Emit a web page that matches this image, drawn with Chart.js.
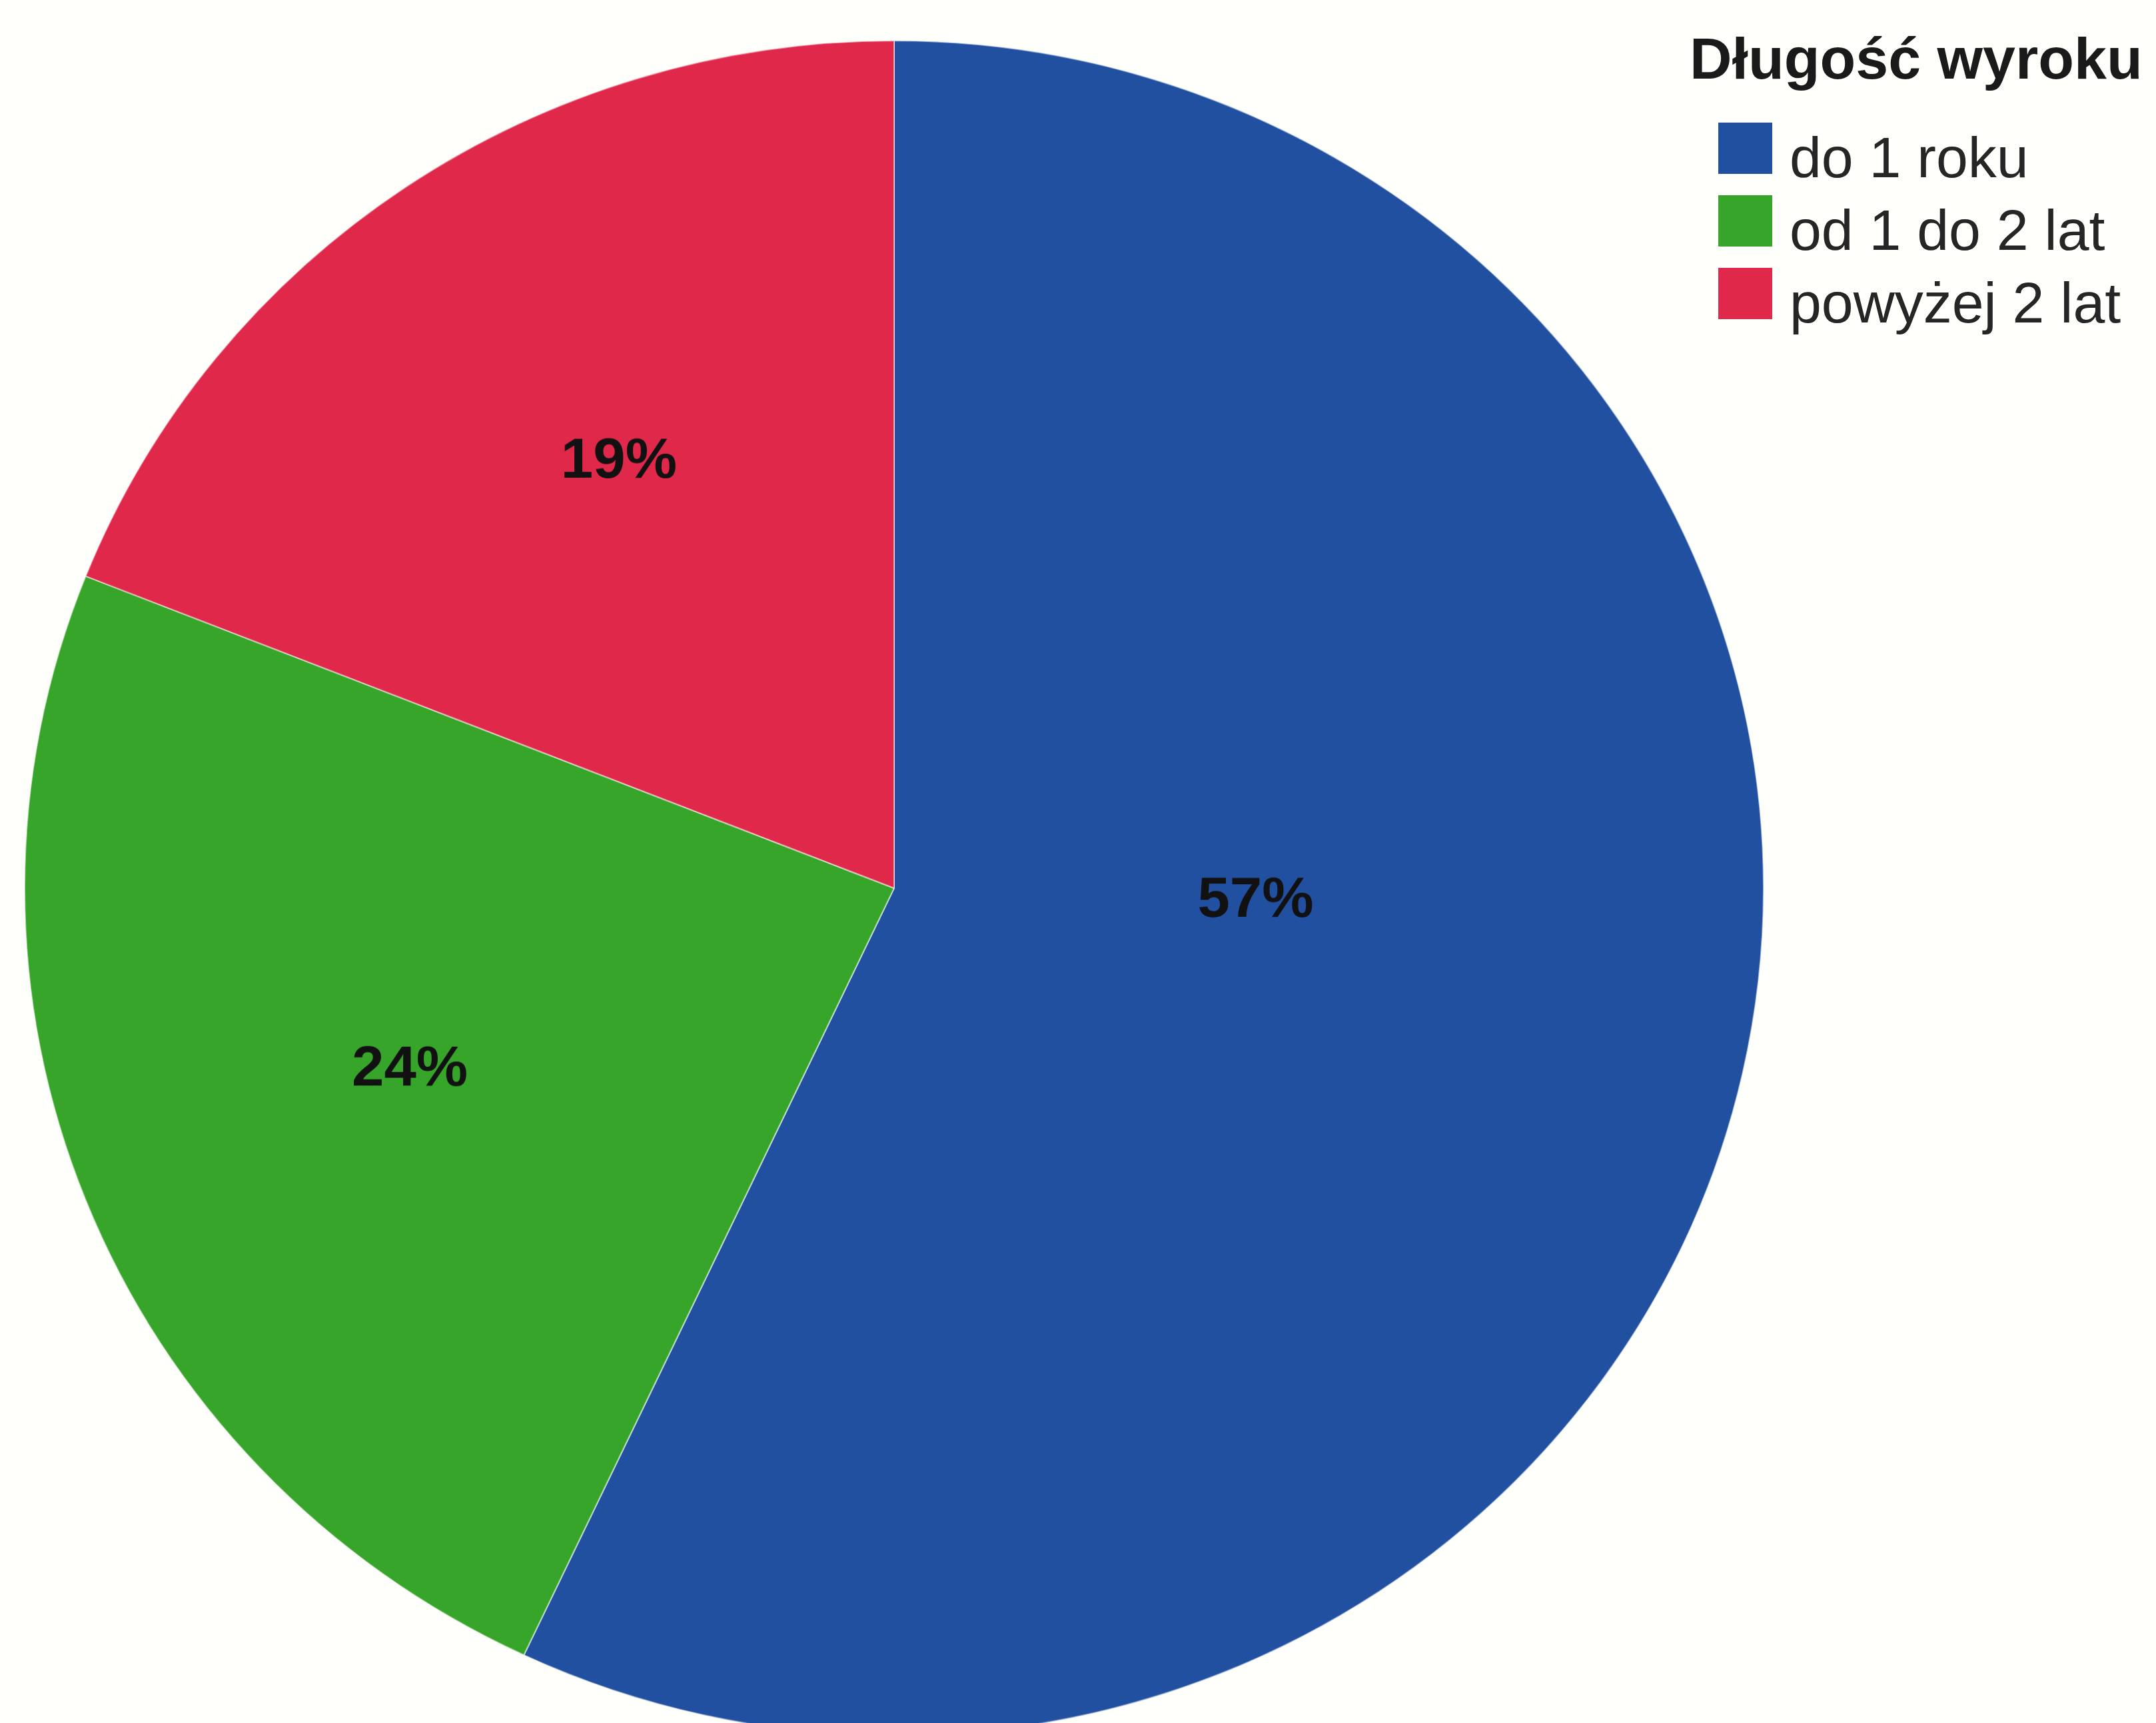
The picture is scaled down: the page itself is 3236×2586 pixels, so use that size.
<!DOCTYPE html>
<html lang="pl">
<head>
    <meta charset="UTF-8">
    <title>Długość wyroku</title>
    <script src="https://cdn.jsdelivr.net/npm/chart.js"></script>
    <style>
        html, body {
            margin: 0;
            width: 3236px;
            height: 2586px;
            overflow: hidden;
            background: #fffffb;
            font-family: 'Liberation Sans', Arial, sans-serif;
            color: #1a1a1a;
        }

        /* pie is a little squashed vertically, like on the printed sheet */
        .pie-wrap {
            position: absolute;
            left: 36px;
            top: 27px;
            width: 2612px;
            height: 2612px;
            transform: scaleY(0.9747);
            transform-origin: 50% 50%;
        }

        .legend {
            position: absolute;
            left: 2536px;
            top: 44px;
        }

        .legend h3 {
            margin: 0 0 50px 0;
            font-size: 88px;
            line-height: 88px;
            font-weight: bold;
            white-space: nowrap;
        }

        .legend .item {
            position: relative;
            height: 109px;
            line-height: 109px;
            font-size: 86px;
            padding-left: 150px;
            white-space: nowrap;
            color: #262626;
        }

        .legend .swatch {
            position: absolute;
            left: 43px;
            top: 2px;
            width: 81px;
            height: 77px;
        }
    </style>
</head>
<body>
    <div class="pie-wrap">
        <canvas id="pieChart"></canvas>
    </div>
    <div class="legend" id="legend">
        <h3>Długość wyroku</h3>
    </div>

    <script>
        // Sentence length shares (%)
        var categories = ['do 1 roku', 'od 1 do 2 lat', 'powyżej 2 lat'];
        var shares = [57, 24, 19];
        var colors = ['#2150a0', '#37a52a', '#e0284b'];

        // where each percentage sits inside its slice
        var labelRadius = [0.416, 0.597, 0.594];
        var labelAngleShift = [-10.5, 0.5, 2];

        var sliceLabels = {
            id: 'sliceLabels',
            afterDatasetsDraw: function (chart) {
                var ctx = chart.ctx;
                var arcs = chart.getDatasetMeta(0).data;
                ctx.save();
                ctx.font = 'bold 87px "Liberation Sans", Arial, sans-serif';
                ctx.fillStyle = '#111';
                ctx.textAlign = 'center';
                ctx.textBaseline = 'middle';
                arcs.forEach(function (arc, i) {
                    var p = arc.getProps(['x', 'y', 'startAngle', 'endAngle', 'outerRadius'], true);
                    var mid = (p.startAngle + p.endAngle) / 2 + labelAngleShift[i] * Math.PI / 180;
                    var r = p.outerRadius * labelRadius[i];
                    ctx.fillText(shares[i] + '%', p.x + Math.cos(mid) * r, p.y + Math.sin(mid) * r);
                });
                ctx.restore();
            }
        };

        var pieCtx = document.getElementById('pieChart').getContext('2d');
        var pieChart = new Chart(pieCtx, {
            type: 'pie',
            data: {
                labels: categories,
                datasets: [{
                    data: shares,
                    backgroundColor: colors,
                    borderColor: 'rgba(255, 255, 255, 0.55)',
                    borderWidth: 2
                }]
            },
            options: {
                responsive: true,
                maintainAspectRatio: false,
                animation: false,
                layout: { padding: 0 },
                plugins: {
                    legend: { display: false },
                    tooltip: { enabled: false }
                }
            },
            plugins: [sliceLabels]
        });

        // legend on the right
        var legend = document.getElementById('legend');
        categories.forEach(function (name, i) {
            var row = document.createElement('div');
            row.className = 'item';
            var sw = document.createElement('span');
            sw.className = 'swatch';
            sw.style.background = colors[i];
            row.appendChild(sw);
            row.appendChild(document.createTextNode(name));
            legend.appendChild(row);
        });
    </script>
</body>
</html>
